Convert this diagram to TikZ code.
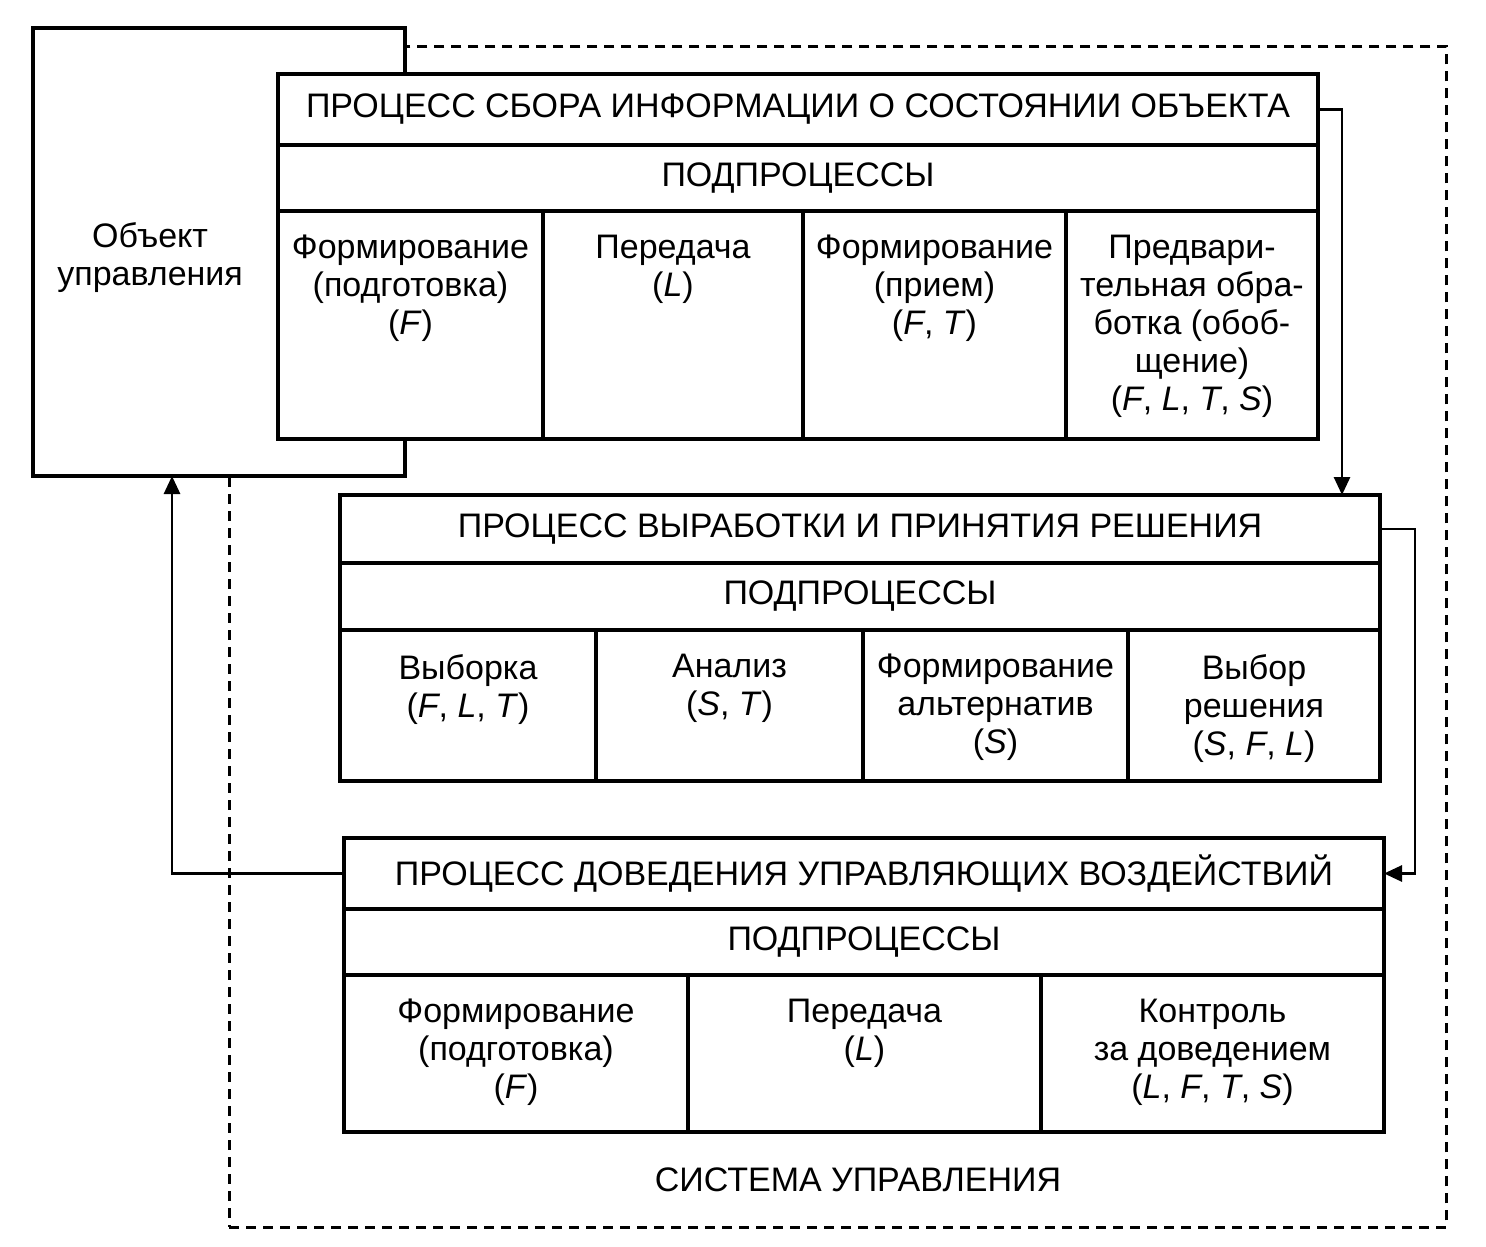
\documentclass[tikz,border=0pt]{standalone}
\usepackage{fontspec}
\setmainfont{Liberation Sans}
\usetikzlibrary{arrows.meta,positioning}

\newcommand{\fv}[1]{\textit{#1}}

\begin{document}
\begin{tikzpicture}[
    x=0.5pt, y=-0.5pt,
    >={Triangle[length=9pt,width=8pt]},
    every node/.style={font=\fontsize{17}{19}\selectfont},
    box/.style={rectangle, draw, line width=1.8pt, fill=white, outer sep=0pt, inner sep=0pt},
    head/.style={box, minimum width=520pt, minimum height=#1},
    cell/.style 2 args={box, minimum width=#1, minimum height=#2},
    ctext/.style={align=center, inner sep=0pt},
    link/.style={->, line width=1.4pt},
    sysline/.style={draw, dash pattern=on 5pt off 3.5pt, line width=1.4pt},
]
\useasboundingbox (0,0) rectangle (1486,1246);

% Control system boundary
\node[sysline, anchor=north west, minimum width=608.5pt, minimum height=590.5pt, inner sep=0pt] (sys) at (228,45) {};
\node (syslabel) at (858,1180) {СИСТЕМА УПРАВЛЕНИЯ};

% Controlled object
\node[box, anchor=north west, minimum width=186pt, minimum height=224pt] (obj) at (33,28) {};
\node[ctext, right=12pt of obj.west, yshift=-3pt] (objtext) {Объект\\управления};

% Information gathering
\node[head=35.5pt, anchor=north] (t1) at (798,74) {ПРОЦЕСС СБОРА ИНФОРМАЦИИ О СОСТОЯНИИ ОБЪЕКТА};
\node[head=33pt, below=0pt of t1] (s1) {ПОДПРОЦЕССЫ};
\node[cell={132.5pt}{114pt}, below right=0pt of s1.south west] (c11) {};
\node[cell={130pt}{114pt}, right=0pt of c11] (c12) {};
\node[cell={131.5pt}{114pt}, right=0pt of c12] (c13) {};
\node[cell={126pt}{114pt}, right=0pt of c13] (c14) {};
\node[ctext, below=12pt of c11.north] (l11) {Формирование\\(подготовка)\\(\fv{F})};
\node[ctext, below=12pt of c12.north] (l12) {Передача\\(\fv{L})};
\node[ctext, below=12pt of c13.north] (l13) {Формирование\\(прием)\\(\fv{F}, \fv{T})};
\node[ctext, below=12pt of c14.north] (l14) {Предвари-\\тельная обра-\\ботка (обоб-\\щение)\\(\fv{F}, \fv{L}, \fv{T}, \fv{S})};

% Decision making
\node[head=34pt, anchor=north] (t2) at (860,495) {ПРОЦЕСС ВЫРАБОТКИ И ПРИНЯТИЯ РЕШЕНИЯ};
\node[head=33.5pt, below=0pt of t2] (s2) {ПОДПРОЦЕССЫ};
\node[cell={128pt}{75.5pt}, below right=0pt of s2.south west] (c21) {};
\node[cell={133.5pt}{75.5pt}, right=0pt of c21] (c22) {};
\node[cell={132.5pt}{75.5pt}, right=0pt of c22] (c23) {};
\node[cell={126pt}{75.5pt}, right=0pt of c23] (c24) {};
\node[ctext, below=12pt of c21.north] (l21) {Выборка\\(\fv{F}, \fv{L}, \fv{T})};
\node[ctext, below=12pt of c22.north] (l22) {Анализ\\(\fv{S}, \fv{T})};
\node[ctext, below=12pt of c23.north] (l23) {Формирование\\альтернатив\\(\fv{S})};
\node[ctext, below=12pt of c24.north] (l24) {Выбор\\решения\\(\fv{S}, \fv{F}, \fv{L})};

% Control actions
\node[head=35.5pt, anchor=north] (t3) at (864,838) {ПРОЦЕСС ДОВЕДЕНИЯ УПРАВЛЯЮЩИХ ВОЗДЕЙСТВИЙ};
\node[head=33pt, below=0pt of t3] (s3) {ПОДПРОЦЕССЫ};
\node[cell={172pt}{78.5pt}, below right=0pt of s3.south west] (c31) {};
\node[cell={176.5pt}{78.5pt}, right=0pt of c31] (c32) {};
\node[cell={171.5pt}{78.5pt}, right=0pt of c32] (c33) {};
\node[ctext, below=12pt of c31.north] (l31) {Формирование\\(подготовка)\\(\fv{F})};
\node[ctext, below=12pt of c32.north] (l32) {Передача\\(\fv{L})};
\node[ctext, below=12pt of c33.north] (l33) {Контроль\\за доведением\\(\fv{L}, \fv{F}, \fv{T}, \fv{S})};

% Arrows
\draw[link] (t1.east) -| ([xshift=-19pt]t2.north east);
\draw[link] (t2.east) -- ++(17.5pt,0) |- (t3.east);
\draw[link] (t3.west) -| ([xshift=-23.5pt]obj.south);

\end{tikzpicture}
\end{document}
